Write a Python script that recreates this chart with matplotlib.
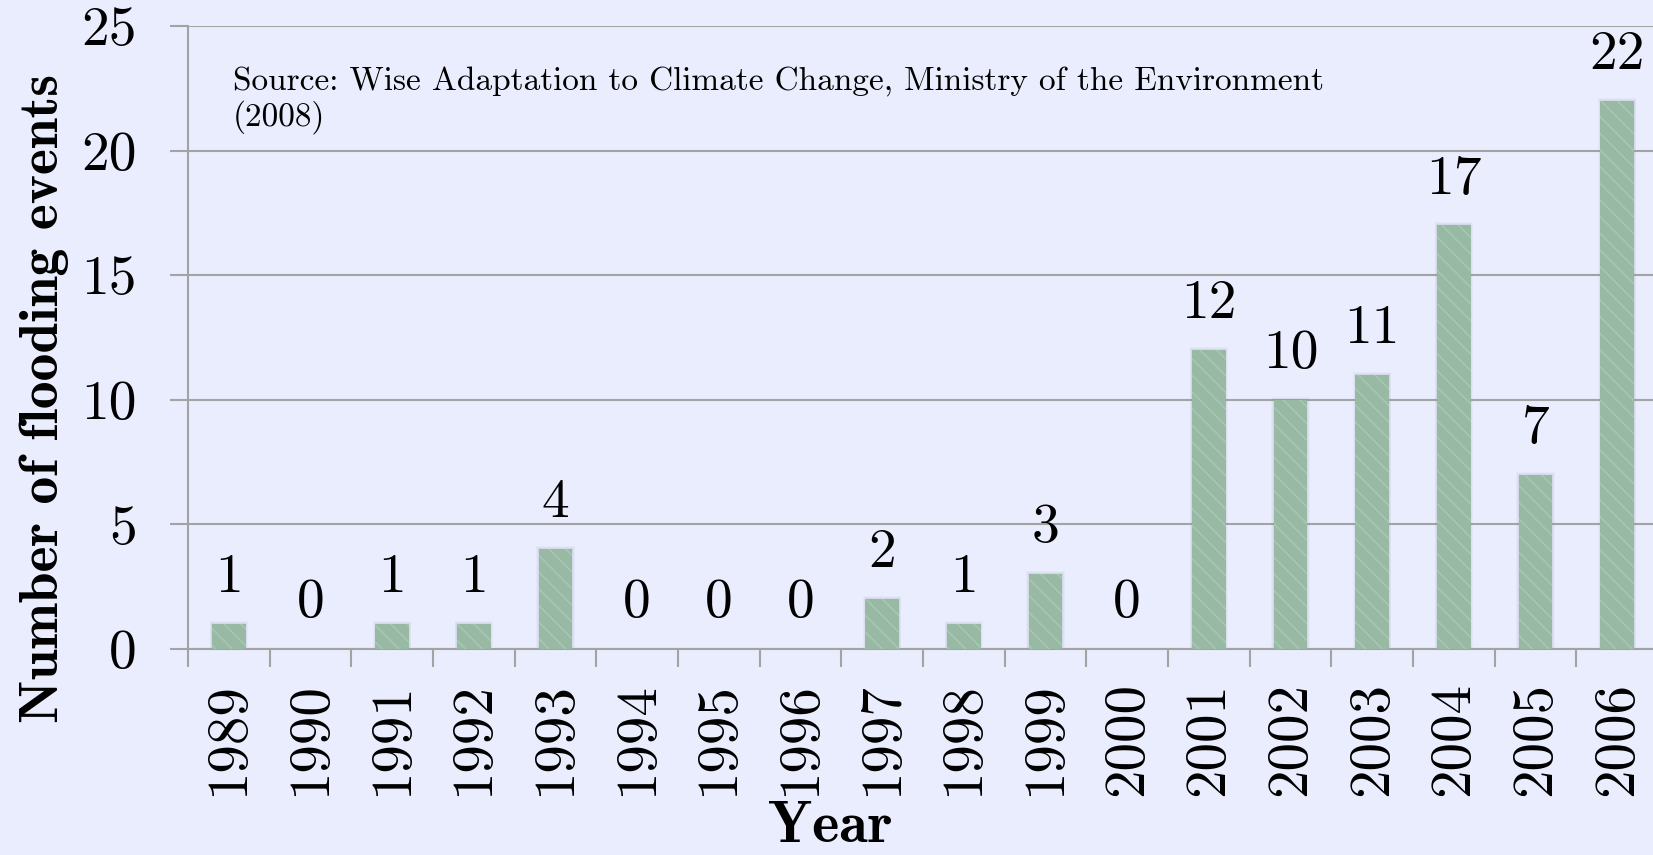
import numpy as np
import matplotlib
matplotlib.use('Agg')
import matplotlib.pyplot as plt

# Flooding events per year
years = ['1989', '1990', '1991', '1992', '1993', '1994', '1995', '1996', '1997',
         '1998', '1999', '2000', '2001', '2002', '2003', '2004', '2005', '2006']
events = [1, 0, 1, 1, 4, 0, 0, 0, 2, 1, 3, 0, 12, 10, 11, 17, 7, 22]
y_ticks = [0, 5, 10, 15, 20, 25]
source = 'Source: Wise Adaptation to Climate Change, Ministry of the Environment\n(2008)'

plt.rcParams['axes.formatter.use_mathtext'] = True

bg = '#eaedfd'
grid_col = '#a3a3a3'
bar_col = '#98b9a4'

W, H = 1653, 855
fig = plt.figure(figsize=(W / 100, H / 100), dpi=100, facecolor=bg)
ax = fig.add_axes([188 / W, (H - 649) / H, (1658 - 188) / W, (649 - 26) / H])
ax.set_facecolor(bg)

x = np.arange(len(years))
ev = np.array(events)

# soft glow behind the bars (only where there is a bar)
for grow, a in [(0.06, 0.05), (0.04, 0.07), (0.02, 0.09)]:
    ax.bar(x, np.where(ev > 0, ev + grow * 2, 0), width=0.41 + grow,
           color='#7f8aa0', alpha=a, linewidth=0, zorder=2)

bars = ax.bar(x, events, width=0.41, color=bar_col, edgecolor='#aac8b5',
              linewidth=0, hatch='\\\\', zorder=3)

# value labels above each bar
for xi, v in zip(x, events):
    ax.annotate(str(v), (xi, v), xytext=(0, 15), textcoords='offset points',
                ha='center', va='bottom', fontsize=40, family='cmr10', zorder=4)

ax.set_xlim(-0.5, len(years) - 0.5)
ax.set_ylim(0, 25)
ax.set_yticks(y_ticks)
ax.set_yticklabels([str(t) for t in y_ticks], family='cmr10', fontsize=40)
ax.set_xticks(np.arange(len(years) + 1) - 0.5, minor=False)
ax.set_xticklabels([])
ax.set_xticks(x, minor=True)
ax.set_xticklabels(years, minor=True, rotation=90, family='cmr10', fontsize=41)
ax.tick_params(axis='x', which='major', length=13, width=1.5, color=grid_col)
ax.tick_params(axis='x', which='minor', length=0, pad=24)
ax.tick_params(axis='y', length=13, width=1.5, color=grid_col, pad=24)

ax.grid(axis='y', color=grid_col, linewidth=1.5, zorder=0)
for side in ['top', 'right']:
    ax.spines[side].set_visible(False)
for side in ['left', 'bottom']:
    ax.spines[side].set_color(grid_col)
    ax.spines[side].set_linewidth(1.5)

ax.text(233 / W, (H - 66) / H, source, transform=fig.transFigure,
        family='cmr10', fontsize=24, va='top', ha='left', linespacing=1.15)

fig.text(44 / W, (H - 398) / H, 'Number of flooding events', rotation=90,
         family='cmb10', fontsize=40, ha='center', va='center')
fig.text(830 / W, 1 / H, 'Year', family='cmb10', fontsize=42,
         ha='center', va='bottom')

fig.savefig('out.png', dpi=100, facecolor=bg)
